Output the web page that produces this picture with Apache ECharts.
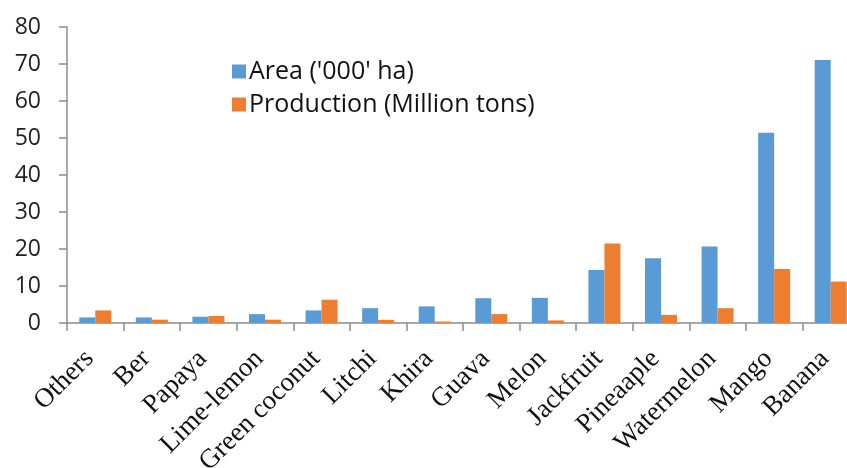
<!DOCTYPE html>
<html><head><meta charset="utf-8">
<script src="https://cdn.jsdelivr.net/npm/echarts@6/dist/echarts.min.js"></script>
<style>html,body{margin:0;padding:0;background:#fff}#c{width:847px;height:468px}</style>
</head><body><div id="c"></div>
<script>
const categories = ['Others','Ber','Papaya','Lime-lemon','Green coconut','Litchi','Khira','Guava','Melon','Jackfruit','Pineaaple','Watermelon','Mango','Banana'];
const areaValues = [1.5,1.5,1.7,2.4,3.4,4.0,4.5,6.7,6.8,14.3,17.5,20.7,51.4,71.1];
const productionValues = [3.4,0.9,1.9,0.9,6.3,0.85,0.4,2.4,0.7,21.5,2.2,4.0,14.6,11.2];
const yTicks = [0,10,20,30,40,50,60,70,80];

const chart = echarts.init(document.getElementById('c'));
chart.setOption({
  animation:false,
  backgroundColor:'#fff',
  grid:{left:67,width:792,top:27,bottom:145,containLabel:false,outerBoundsMode:'none'},
  legend:{
    orient:'vertical', left:227, top:54, itemWidth:14, itemHeight:14, itemGap:8,
    icon:'rect',
    textStyle:{fontFamily:'Open Sans, sans-serif',fontSize:25,color:'#111',padding:[0,0,0,-2]},
    data:['Area (\'000\' ha)','Production (Million tons)']
  },
  xAxis:{
    type:'category', data:categories,
    axisLine:{lineStyle:{color:'#8c8c8c',width:1.5}},
    axisTick:{show:true,length:8,lineStyle:{color:'#8c8c8c',width:1.5}},
    axisLabel:{rotate:45,interval:0,margin:26,padding:[0,8,0,0],fontFamily:'Liberation Serif, serif',fontSize:27,color:'#111'}
  },
  yAxis:{
    type:'value', min:yTicks[0], max:yTicks[yTicks.length-1], interval:10,
    splitLine:{show:false},
    axisLine:{show:true,lineStyle:{color:'#8c8c8c',width:1.5}},
    axisTick:{show:true,length:8,lineStyle:{color:'#8c8c8c',width:1.5}},
    axisLabel:{margin:26,fontFamily:'Open Sans, sans-serif',fontSize:23,color:'#222'}
  },
  series:[
    {name:'Area (\'000\' ha)',type:'bar',data:areaValues,barWidth:16,barGap:'0%',itemStyle:{color:'#5B9BD5'}},
    {name:'Production (Million tons)',type:'bar',data:productionValues,barWidth:16,barGap:'0%',itemStyle:{color:'#ED7D31'}}
  ]
});
</script></body></html>
